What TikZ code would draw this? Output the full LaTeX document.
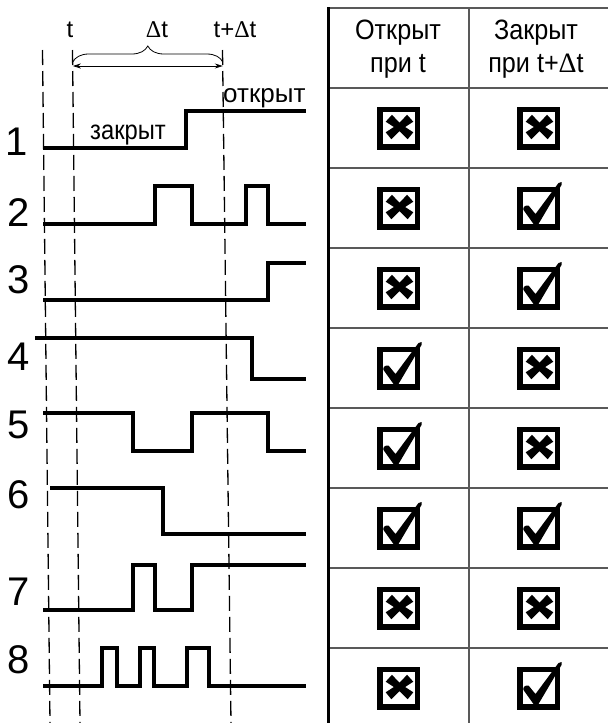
\documentclass[tikz,border=0pt]{standalone}
\usepackage{fontspec}
\setmainfont{Liberation Sans}
\newfontfamily\narrowfont[FakeStretch=0.88]{Liberation Sans}
\newfontfamily\headfont[FakeStretch=0.9]{Liberation Sans}
\newfontfamily\deltafont{Liberation Serif}
\usetikzlibrary{decorations.pathreplacing,arrows.meta}
\newcommand{\dlt}{{\deltafont Δ}}

\tikzset{
  wave/.style={line width=3.2pt, line join=miter},
  guide/.style={line width=1.3pt, dash pattern=on 15pt off 6pt},
  rule/.style={line width=1.3pt, draw=black!65},
  digit/.style={inner sep=0pt, font=\fontsize{40}{44}\selectfont},
  toplabel/.style={inner sep=0pt, anchor=base, font=\fontsize{24}{28}\selectfont},
  headtext/.style={inner sep=0pt, anchor=base, font=\headfont\fontsize{28}{32}\selectfont},
  wavetext/.style={inner sep=0pt, anchor=base west},
  xbox/.pic={
    \draw[line width=5.5pt] (-18.75,-18.75) rectangle (18.75,18.75);
    \begin{scope}[shift={(1,-1)}]
      \fill (-7.6,-12.2) -- (1.9,-2.4) -- (13.8,5.3) -- (8.2,12.2)
            -- (-1.9,2.4) -- (-13.8,-5.3) -- cycle;
      \fill (7.6,-12.2) -- (-1.9,-2.4) -- (-13.8,5.3) -- (-8.2,12.2)
            -- (1.9,2.4) -- (13.8,-5.3) -- cycle;
    \end{scope}
  },
  vbox/.pic={
    \draw[line width=5.5pt] (-18.75,-18.75) rectangle (18.75,18.75);
    \fill (-15,2) .. controls (-16,-1) and (-13,-3) .. (-10,-2.5)
          -- (-3,6) -- (20,-25) -- (23,-26) -- (23,-23) -- (0,16) -- (-5,16) -- cycle;
  }
}

\begin{document}
\begin{tikzpicture}[x=1pt,y=-1pt]
  \useasboundingbox (0,0) rectangle (608,723);
  \fill[white] (0,0) rectangle (608,723);

  % time markers: t, t+dt and the left reference line
  \coordinate (g0top) at (42.5,50);  \coordinate (g0bot) at (50,723);
  \coordinate (gttop) at (72.5,50);  \coordinate (gtbot) at (80,723);
  \coordinate (gdtop) at (222.5,50); \coordinate (gdbot) at (231,723);
  \draw[guide] (g0top) -- (g0bot);
  \draw[guide] (gttop) -- (gtbot);
  \draw[guide] (gdtop) -- (gdbot);

  \node[toplabel] (lt)  at (70,37)  {t};
  \node[toplabel] (ldt) at (157,37) {\dlt t};
  \node[toplabel] (ltd) at (235,37) {t+\dlt t};

  % interval arrow and brace
  \coordinate (al) at (72.8,66);
  \coordinate (ar) at (222.8,66);
  \draw[line width=0.8pt, {Stealth[length=8pt,width=5pt]}-{Stealth[length=8pt,width=5pt]}] (al) -- (ar);
  \coordinate (bl) at (72.8,62);
  \coordinate (br) at (222.8,62);
  \draw[line width=0.8pt, decorate, decoration={brace, amplitude=16pt}] (bl) -- (br);

  % row numbers
  \node[digit] (d1) at (17,142) {1};
  \node[digit] (d2) at (19,213) {2};
  \node[digit] (d3) at (19,280) {3};
  \node[digit] (d4) at (19,357) {4};
  \node[digit] (d5) at (19,425) {5};
  \node[digit] (d6) at (19,495) {6};
  \node[digit] (d7) at (19,592) {7};
  \node[digit] (d8) at (19,660) {8};

  % signals
  \draw[wave] (43,148) -- (186,148) -- (186,111) -- (306,111);
  \draw[wave] (43,224) -- (155,224) -- (155,186) -- (192,186) -- (192,224)
              -- (246,224) -- (246,186) -- (268,186) -- (268,224) -- (306,224);
  \draw[wave] (43,300) -- (268,300) -- (268,263) -- (306,263);
  \draw[wave] (35,338) -- (252,338) -- (252,379) -- (306,379);
  \draw[wave] (43,413) -- (133,413) -- (133,451) -- (192,451) -- (192,413)
              -- (268,413) -- (268,451) -- (306,451);
  \draw[wave] (50,488) -- (163,488) -- (163,534) -- (306,534);
  \draw[wave] (43,610) -- (133,610) -- (133,565) -- (155,565) -- (155,610)
              -- (192,610) -- (192,565) -- (306,565);
  \draw[wave] (43,686) -- (102,686) -- (102,648) -- (117,648) -- (117,686)
              -- (140,686) -- (140,648) -- (154,648) -- (154,686)
              -- (187,686) -- (187,648) -- (209,648) -- (209,686) -- (306,686);

  \node[wavetext, font=\narrowfont\fontsize{27}{30}\selectfont] (closed) at (90,139) {закрыт};
  \node[wavetext, font=\fontsize{26}{30}\selectfont] (open) at (223,102) {открыт};

  % table
  \draw[rule] (328,8) -- (608,8);
  \foreach \k in {0,...,7} {
    \draw[rule] (328,{88+80*\k}) -- (608,{88+80*\k});
  }
  \draw[rule] (469,8) -- (469,723);
  \draw[line width=3pt] (328.5,7) -- (328.5,723);

  \node[headtext] (h1a) at (398,39) {Открыт};
  \node[headtext] (h1b) at (398,72) {при t};
  \node[headtext] (h2a) at (536,39) {Закрыт};
  \node[headtext] (h2b) at (536,72) {при t+\dlt t};

  % answers per row: open at t / closed at t+dt
  \pic at (398.5,128) {xbox}; \pic at (538.5,128) {xbox};
  \pic at (398.5,208) {xbox}; \pic at (538.5,208) {vbox};
  \pic at (398.5,288) {xbox}; \pic at (538.5,288) {vbox};
  \pic at (398.5,368) {vbox}; \pic at (538.5,368) {xbox};
  \pic at (398.5,448) {vbox}; \pic at (538.5,448) {xbox};
  \pic at (398.5,528) {vbox}; \pic at (538.5,528) {vbox};
  \pic at (398.5,608) {xbox}; \pic at (538.5,608) {xbox};
  \pic at (398.5,688) {xbox}; \pic at (538.5,688) {vbox};
\end{tikzpicture}
\end{document}
